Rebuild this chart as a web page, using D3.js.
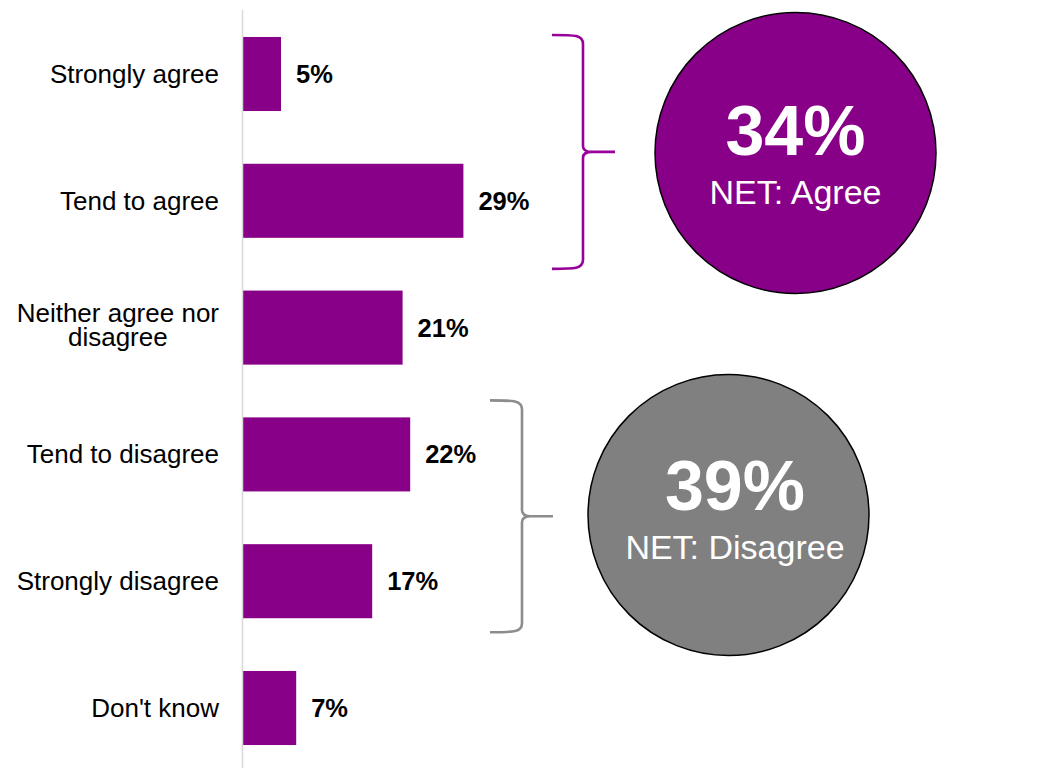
<!DOCTYPE html>
<html>
<head>
<meta charset="utf-8">
<script src="https://cdn.jsdelivr.net/npm/d3@7"></script>
<style>
  html, body { margin: 0; padding: 0; background: #ffffff; }
  svg { display: block; font-family: Arial, "Liberation Sans", sans-serif; }
</style>
</head>
<body>
<svg id="chart" width="1057" height="768"></svg>
<script>
// Survey responses (percent of respondents)
const categories = [
  "Strongly agree",
  "Tend to agree",
  "Neither agree nor disagree",
  "Tend to disagree",
  "Strongly disagree",
  "Don't know"
];
const values = [5, 29, 21, 22, 17, 7];

// Net groupings shown as circles next to the bars
const agreeGroup = ["Strongly agree", "Tend to agree"];
const disagreeGroup = ["Tend to disagree", "Strongly disagree"];
const netLabels = ["NET: Agree", "NET: Disagree"];

const purple = "#880088";
const bracePurple = "#990099";
const grey = "#808080";
const braceGrey = "#8c8c8c";

const svg = d3.select("#chart");

const x = d3.scaleLinear().domain([0, 100]).range([243, 1003]);
const y = d3.scaleBand()
  .domain(categories)
  .range([10.6, 771.4])
  .paddingInner(0.416)
  .paddingOuter(0.208);

const rows = categories.map((c, i) => ({ cat: c, value: values[i] }));

// Bars
svg.append("g").selectAll("rect")
  .data(rows)
  .join("rect")
  .attr("x", x(0))
  .attr("y", d => y(d.cat))
  .attr("width", d => x(d.value) - x(0))
  .attr("height", y.bandwidth())
  .attr("fill", purple);

// Vertical axis line
svg.append("line")
  .attr("x1", x(0) - 0.5).attr("x2", x(0) - 0.5)
  .attr("y1", 10).attr("y2", 768)
  .attr("stroke", "#d9d9d9")
  .attr("stroke-width", 1.5);

// Category labels; long ones wrap onto two centred lines
const wrapped = {
  "Neither agree nor disagree": ["Neither agree nor", "disagree"]
};
const labelRight = 219;
const catLabels = svg.append("g")
  .attr("font-size", 26)
  .attr("fill", "#000");
rows.forEach(d => {
  const lines = wrapped[d.cat] || [d.cat];
  const cy = y(d.cat) + y.bandwidth() / 2;
  const lh = 23.5;
  const t = catLabels.append("text");
  if (lines.length === 1) {
    t.attr("text-anchor", "end")
      .attr("x", labelRight)
      .attr("y", cy + 9)
      .text(lines[0]);
  } else {
    // measure widest line to centre the block against the right edge
    t.attr("text-anchor", "middle");
    const spans = lines.map((ln, i) => t.append("tspan")
      .attr("y", cy + 6.5 + (i - (lines.length - 1) / 2) * lh)
      .text(ln));
    const w = d3.max(spans, s => s.node().getComputedTextLength());
    spans.forEach(s => s.attr("x", labelRight - w / 2));
  }
});

// Value labels
svg.append("g").selectAll("text")
  .data(rows)
  .join("text")
  .attr("x", d => x(d.value) + 15)
  .attr("y", d => y(d.cat) + y.bandwidth() / 2 + 9)
  .attr("font-size", 25.5)
  .attr("font-weight", "bold")
  .attr("fill", "#000")
  .text(d => d.value + "%");

// Curly brace opening to the left, tip pointing right
function bracePath(xl, xv, xt, top, bottom, tipY) {
  return `M${xl},${top} C${xv - 8},${top} ${xv},${top} ${xv},${top + 9}` +
    ` L${xv},${tipY - 6} C${xv},${tipY - 2} ${xv + 3},${tipY} ${xv + 9},${tipY}` +
    ` L${xt},${tipY}` +
    ` M${xv + 9},${tipY} C${xv + 3},${tipY} ${xv},${tipY + 2} ${xv},${tipY + 6}` +
    ` L${xv},${bottom - 9} C${xv},${bottom} ${xv - 8},${bottom} ${xl},${bottom}`;
}

const netAgree = d3.sum(rows.filter(d => agreeGroup.includes(d.cat)), d => d.value);
const netDisagree = d3.sum(rows.filter(d => disagreeGroup.includes(d.cat)), d => d.value);

// Agree brace
const aTop = y(agreeGroup[0]) - 2;
const aBot = y(agreeGroup[1]) + y.bandwidth() + 31;
const aTip = (aTop + aBot) / 2;
svg.append("path")
  .attr("d", bracePath(552, 583, 615, aTop, aBot, aTip))
  .attr("fill", "none")
  .attr("stroke", bracePurple)
  .attr("stroke-width", 2.6);

// Disagree brace
const dTop = y(disagreeGroup[0]) - 17;
const dBot = y(disagreeGroup[1]) + y.bandwidth() + 14;
const dTip = (dTop + dBot) / 2;
svg.append("path")
  .attr("d", bracePath(490, 522, 553, dTop, dBot, dTip))
  .attr("fill", "none")
  .attr("stroke", braceGrey)
  .attr("stroke-width", 2.6);

// Net circles
const circles = [
  { cx: 795.5, cy: 153, tx: 795.5, ty: 155, fill: purple, value: netAgree, label: netLabels[0] },
  { cx: 728.5, cy: 515, tx: 735, ty: 510, fill: grey, value: netDisagree, label: netLabels[1] }
];
const cg = svg.append("g").selectAll("g").data(circles).join("g");
cg.append("circle")
  .attr("cx", d => d.cx)
  .attr("cy", d => d.cy)
  .attr("r", 140.5)
  .attr("fill", d => d.fill)
  .attr("stroke", "#000")
  .attr("stroke-width", 1.5);
cg.append("text")
  .attr("x", d => d.tx)
  .attr("y", d => d.ty)
  .attr("text-anchor", "middle")
  .attr("font-size", 70)
  .attr("font-weight", "bold")
  .attr("fill", "#fff")
  .text(d => d.value + "%");
cg.append("text")
  .attr("x", d => d.tx)
  .attr("y", d => d.ty + 49)
  .attr("text-anchor", "middle")
  .attr("font-size", 34)
  .attr("fill", "#fff")
  .text(d => d.label);
</script>
</body>
</html>
